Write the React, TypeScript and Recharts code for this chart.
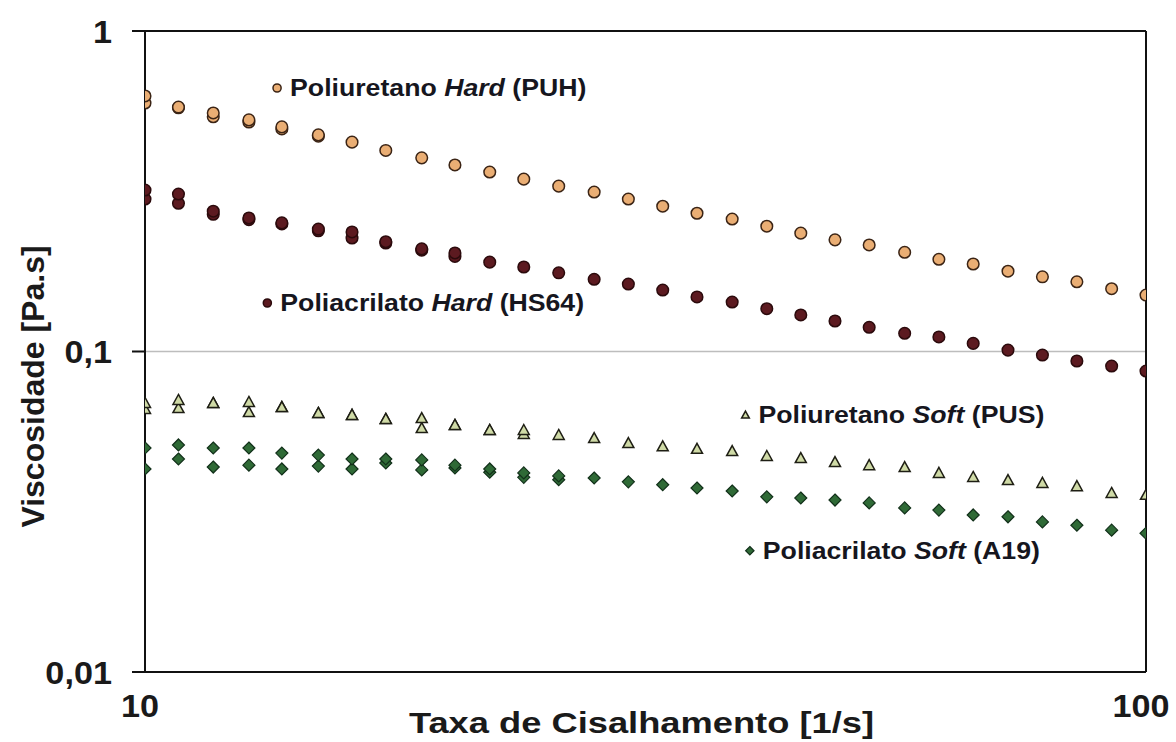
import React from "react";
import {
  ScatterChart,
  Scatter,
  XAxis,
  YAxis,
  CartesianGrid,
  ReferenceLine,
} from "recharts";

// shear rate [1/s], log spaced
const shearRate = [
  10, 10.8, 11.7, 12.7, 13.7, 14.9, 16.1, 17.4, 18.9, 20.4, 22.1, 23.9, 25.9, 28.1, 30.4,
  32.9, 35.6, 38.6, 41.8, 45.2, 48.9, 52.9, 57.4, 62.1, 67.2, 72.8, 78.8, 85.3, 92.4, 100,
];

// viscosity [Pa.s], run 1 of each material
const puh1 = [
  0.627, 0.579, 0.555, 0.528, 0.502, 0.474, 0.45, 0.424, 0.402, 0.382, 0.363, 0.345, 0.328, 0.3145, 0.299,
  0.284, 0.27, 0.259, 0.246, 0.234, 0.223, 0.215, 0.204, 0.194, 0.1875, 0.178, 0.171, 0.165, 0.157, 0.15,
];
const hs641 = [
  0.319, 0.31, 0.274, 0.261, 0.252, 0.241, 0.236, 0.22, 0.209, 0.203, 0.19, 0.1835, 0.176, 0.168, 0.1624,
  0.1555, 0.148, 0.1427, 0.136, 0.13, 0.1245, 0.119, 0.114, 0.111, 0.106, 0.101, 0.0975, 0.0934, 0.0901, 0.0869,
];
const pus1 = [
  0.0691, 0.0706, 0.0691, 0.0696, 0.0671, 0.0643, 0.0634, 0.0616, 0.062, 0.059, 0.0569, 0.0569, 0.0549, 0.0537, 0.0518,
  0.0506, 0.0497, 0.0489, 0.0472, 0.0465, 0.0452, 0.0442, 0.0436, 0.0418, 0.0406, 0.0397, 0.0389, 0.038, 0.0362, 0.0357,
];
const a191 = [
  0.05, 0.0511, 0.05, 0.05, 0.0482, 0.0475, 0.0462, 0.0462, 0.0459, 0.0442, 0.043, 0.0418, 0.0409, 0.0403, 0.0392,
  0.0384, 0.0375, 0.0367, 0.0352, 0.0349, 0.0344, 0.0337, 0.0325, 0.032, 0.0309, 0.0305, 0.0294, 0.0287, 0.0277, 0.0271,
];

// run 2 (only where it separates from run 1)
const puh2 = [0.596, 0.576, 0.54, 0.52, 0.495, 0.47];
const hs642 = [0.299, 0.29, 0.268, 0.258, 0.25, 0.238, 0.226, 0.218, 0.207, 0.198];
const pus2 = [0.0662, 0.0666, 0.0691, 0.0647, 0.0671, 0.0643, 0.0634, 0.0616, 0.0577, 0.059, 0.0569, 0.0553];
const a192 = [0.043, 0.0462, 0.0436, 0.0442, 0.043, 0.0439, 0.043, 0.0449, 0.0427, 0.0433, 0.042, 0.0405, 0.0398];

// in-plot series labels
const labelName = ["Poliuretano", "Poliacrilato", "Poliuretano", "Poliacrilato"];
const labelKind = ["Hard", "Hard", "Soft", "Soft"];
const labelCode = ["(PUH)", "(HS64)", "(PUS)", "(A19)"];
const labelX = [13.55, 13.25, 39.8, 40.2];
const labelY = [0.664, 0.1417, 0.0634, 0.0239];

const xTicks = [10, 100];
const yTicks = [0.01, 0.1, 1];

const FONT = "'Liberation Sans', Arial, sans-serif";

const STYLE = [
  { shape: "circle", fill: "#EAAE74", stroke: "#3b2415" },
  { shape: "circle", fill: "#5c1a20", stroke: "#2b0a0c" },
  { shape: "triangle", fill: "#cfdaa6", stroke: "#1e1e14" },
  { shape: "diamond", fill: "#2f6a36", stroke: "#12301a" },
];

const toPoints = (ys: number[]) => ys.map((y, i) => ({ x: shearRate[i], y }));

const labelData = labelName.map((name, i) => ({
  x: labelX[i],
  y: labelY[i],
  name,
  kind: labelKind[i],
  code: labelCode[i],
  idx: i,
}));

function marker(idx: number, cx: number, cy: number, s: number) {
  const st = STYLE[idx];
  if (st.shape === "circle")
    return <circle cx={cx} cy={cy} r={5.8 * s} fill={st.fill} stroke={st.stroke} strokeWidth={1.5} />;
  if (st.shape === "triangle") {
    const pts = `${cx},${cy - 5.5 * s} ${cx + 5.5 * s},${cy + 4.5 * s} ${cx - 5.5 * s},${cy + 4.5 * s}`;
    return <polygon points={pts} fill={st.fill} stroke={st.stroke} strokeWidth={1.5} />;
  }
  const pts = `${cx},${cy - 6 * s} ${cx + 6 * s},${cy} ${cx},${cy + 6 * s} ${cx - 6 * s},${cy}`;
  return <polygon points={pts} fill={st.fill} stroke={st.stroke} strokeWidth={1.2} />;
}

const shapeFor = (idx: number) => (p: any) => marker(idx, p.cx, p.cy, 1);

const LabelShape = (p: any) => {
  const d = p.payload;
  return (
    <g>
      {marker(d.idx, p.cx, p.cy, 0.7)}
      <text
        transform={`translate(${p.cx + 13},${p.cy}) scale(1.16,1)`}
        fontSize={23}
        fontWeight="bold"
        fontFamily={FONT}
        fill="#16161e"
        dy="0.36em"
      >
        {`${d.name} `}
        <tspan fontStyle="italic">{d.kind}</tspan>
        {` ${d.code}`}
      </text>
    </g>
  );
};

const XTick = (p: any) => (
  <text
    transform={`translate(${p.x - 5},${p.y}) scale(1.07,1)`}
    textAnchor="middle"
    dy="0.71em"
    fontSize={32}
    fontWeight="bold"
    fontFamily={FONT}
    fill="#1a1a1a"
  >
    {p.payload.value}
  </text>
);

const YTick = (p: any) => (
  <text
    transform={`translate(${p.x + 2},${p.y}) scale(1.07,1)`}
    textAnchor="end"
    dy="0.36em"
    fontSize={32}
    fontWeight="bold"
    fontFamily={FONT}
    fill="#1a1a1a"
  >
    {String(p.payload.value).replace(".", ",")}
  </text>
);

const YTitle = (p: any) => {
  const vb = p.viewBox;
  const cx = vb.x + vb.width - 113;
  const cy = vb.y + vb.height / 2 + 35;
  return (
    <text
      transform={`translate(${cx},${cy}) rotate(-90)`}
      textAnchor="middle"
      dy="0.36em"
      fontSize={32}
      fontWeight="bold"
      fontFamily={FONT}
      fill="#1a1a1a"
    >
      Viscosidade [Pa.s]
    </text>
  );
};

const XTitle = (p: any) => {
  const vb = p.viewBox;
  const cx = vb.x + vb.width / 2 - 4;
  return (
    <text
      transform={`translate(${cx},${vb.y + 61}) scale(1.21,1)`}
      textAnchor="middle"
      fontSize={30}
      fontWeight="bold"
      fontFamily={FONT}
      fill="#1a1a1a"
    >
      Taxa de Cisalhamento [1/s]
    </text>
  );
};

export default function App() {
  const runs1 = [puh1, hs641, pus1, a191];
  const runs2 = [puh2, hs642, pus2, a192];
  return (
    <div style={{ position: "absolute", left: 0, top: 0, background: "#fff" }}>
      <ScatterChart width={1176} height={742} margin={{ top: 31, right: 30, bottom: 0, left: 0 }}>
        <CartesianGrid vertical={false} stroke="#bdbdbd" strokeWidth={1.5} />
        <XAxis
          type="number"
          dataKey="x"
          scale="log"
          domain={[10, 100]}
          ticks={xTicks}
          allowDataOverflow
          height={70}
          tickSize={0}
          tickMargin={22}
          tickLine={false}
          axisLine={{ stroke: "#111", strokeWidth: 2 }}
          tick={XTick}
          label={{ content: XTitle }}
        />
        <YAxis
          type="number"
          dataKey="y"
          scale="log"
          domain={[0.01, 1]}
          ticks={yTicks}
          allowDataOverflow
          width={145}
          tickSize={13}
          tickMargin={22}
          tickLine={{ stroke: "#111", strokeWidth: 2 }}
          axisLine={{ stroke: "#111", strokeWidth: 2 }}
          tick={YTick}
          label={{ content: YTitle }}
        />
        <ReferenceLine y={1} stroke="#111" strokeWidth={2} ifOverflow="visible" />
        <ReferenceLine x={100} stroke="#111" strokeWidth={2} ifOverflow="visible" />
        {runs2.map((r, i) => (
          <Scatter key={`b${i}`} data={toPoints(r)} shape={shapeFor(i)} isAnimationActive={false} />
        ))}
        {runs1.map((r, i) => (
          <Scatter key={`a${i}`} data={toPoints(r)} shape={shapeFor(i)} isAnimationActive={false} />
        ))}
        <Scatter data={labelData} shape={LabelShape} isAnimationActive={false} />
      </ScatterChart>
    </div>
  );
}
